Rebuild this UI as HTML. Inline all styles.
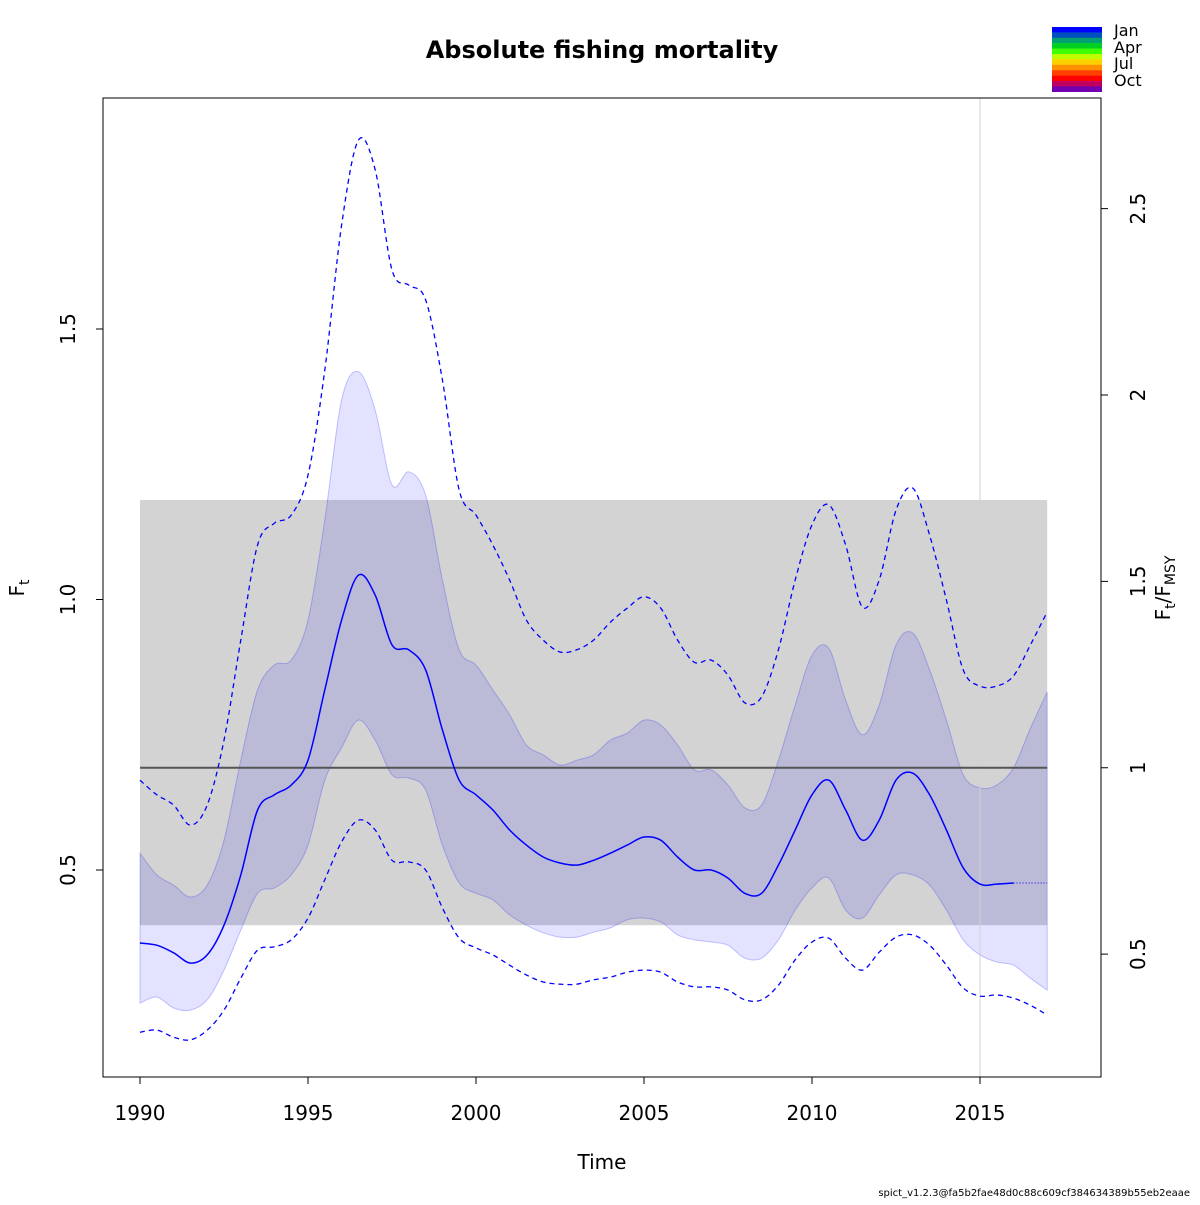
<!DOCTYPE html>
<html><head><meta charset="utf-8"><style>
body{margin:0;background:#fff;}
svg text{font-family:"DejaVu Sans","Liberation Sans",sans-serif;}
</style></head><body>
<svg id="chart" width="1200" height="1200" xmlns="http://www.w3.org/2000/svg">
<rect width="1200" height="1200" fill="#fff"/>
<g id="plot"></g>
</svg>
<script>
const years=[1990,1990.5,1991,1991.5,1992,1992.5,1993,1993.5,1994,1994.5,1995,1995.5,1996,1996.5,1997,1997.5,1998,1998.5,1999,1999.5,2000,2000.5,2001,2001.5,2002,2002.5,2003,2003.5,2004,2004.5,2005,2005.5,2006,2006.5,2007,2007.5,2008,2008.5,2009,2009.5,2010,2010.5,2011,2011.5,2012,2012.5,2013,2013.5,2014,2014.5,2015,2015.5,2016,2016.5,2017];
const fMedian=[0.365,0.361,0.347,0.328,0.343,0.398,0.491,0.611,0.639,0.657,0.703,0.833,0.962,1.045,1.008,0.916,0.907,0.870,0.759,0.666,0.639,0.611,0.574,0.546,0.524,0.513,0.509,0.518,0.531,0.546,0.561,0.555,0.524,0.500,0.500,0.485,0.457,0.457,0.509,0.574,0.639,0.666,0.611,0.555,0.592,0.666,0.679,0.639,0.574,0.504,0.474,0.474,0.476,0.476,0.476];
const fUpperOuter=[0.666,0.639,0.620,0.583,0.620,0.740,0.925,1.101,1.141,1.156,1.230,1.424,1.692,1.849,1.794,1.609,1.581,1.554,1.406,1.202,1.156,1.101,1.036,0.962,0.925,0.903,0.907,0.925,0.958,0.984,1.005,0.984,0.925,0.884,0.888,0.860,0.809,0.820,0.907,1.036,1.138,1.175,1.101,0.986,1.036,1.165,1.206,1.119,0.999,0.870,0.840,0.840,0.859,0.916,0.977];
const fLowerOuter=[0.200,0.204,0.191,0.186,0.204,0.241,0.300,0.352,0.358,0.371,0.411,0.482,0.552,0.592,0.574,0.518,0.515,0.500,0.430,0.374,0.356,0.343,0.324,0.306,0.293,0.289,0.289,0.297,0.302,0.311,0.315,0.311,0.293,0.284,0.284,0.278,0.260,0.260,0.287,0.334,0.367,0.374,0.337,0.315,0.348,0.376,0.380,0.361,0.324,0.282,0.267,0.269,0.263,0.250,0.232];
const fUpperInner=[0.531,0.491,0.472,0.450,0.472,0.555,0.703,0.833,0.879,0.888,0.962,1.147,1.369,1.421,1.350,1.212,1.236,1.193,1.036,0.907,0.879,0.833,0.787,0.731,0.713,0.694,0.703,0.713,0.740,0.753,0.777,0.768,0.731,0.685,0.685,0.657,0.615,0.620,0.703,0.805,0.897,0.910,0.814,0.750,0.805,0.916,0.938,0.870,0.777,0.676,0.652,0.657,0.689,0.762,0.829];
const fLowerInner=[0.254,0.265,0.245,0.241,0.260,0.315,0.389,0.457,0.467,0.491,0.546,0.666,0.726,0.777,0.740,0.676,0.670,0.648,0.546,0.476,0.457,0.445,0.417,0.398,0.384,0.376,0.376,0.385,0.393,0.408,0.411,0.404,0.380,0.371,0.367,0.361,0.337,0.337,0.371,0.426,0.467,0.485,0.426,0.411,0.454,0.491,0.491,0.472,0.426,0.371,0.343,0.330,0.324,0.300,0.278];
const fmsy=0.689, fmsyLow=0.398, fmsyHigh=1.184;
const xTicks=[1990,1995,2000,2005,2010,2015];
const yTicks=[0.5,1.0,1.5];
const yTickLabels=["0.5","1.0","1.5"];
const rTicks=[0.5,1,1.5,2,2.5];
const rTickLabels=["0.5","1","1.5","2","2.5"];
const monthColors=["#0000ff","#0050c0","#00a070","#00d020","#40ff00","#c0ff00","#ffd000","#ff9000","#ff4000","#ff0000","#c00060","#7000b0"];

const X=t=>140+(t-1990)*33.6;
const Y=v=>870-(v-0.5)*541;
const NS="http://www.w3.org/2000/svg";
const g=document.getElementById('plot');
function el(tag,attrs,parent){const e=document.createElementNS(NS,tag);for(const k in attrs)e.setAttribute(k,attrs[k]);(parent||g).appendChild(e);return e;}
function smooth(xs,ys){let d="M"+xs[0].toFixed(1)+","+ys[0].toFixed(1);for(let i=0;i<xs.length-1;i++){const x0=xs[Math.max(0,i-1)],y0=ys[Math.max(0,i-1)],x1=xs[i],y1=ys[i],x2=xs[i+1],y2=ys[i+1],x3=xs[Math.min(xs.length-1,i+2)],y3=ys[Math.min(xs.length-1,i+2)];d+=" C"+(x1+(x2-x0)/6).toFixed(1)+","+(y1+(y2-y0)/6).toFixed(1)+" "+(x2-(x3-x1)/6).toFixed(1)+","+(y2-(y3-y1)/6).toFixed(1)+" "+x2.toFixed(1)+","+y2.toFixed(1);}return d;}
const xs=years.map(X);

// gray Fmsy CI region
let r=el('rect',{x:X(1990),y:Y(fmsyHigh),width:X(2017)-X(1990),height:Y(fmsyLow)-Y(fmsyHigh),fill:'#d3d3d3'});


// inner band
const up=smooth(xs,fUpperInner.map(Y));
const lo=smooth(xs.slice().reverse(),fLowerInner.map(Y).reverse());
let band=el('path',{d:up+" L"+lo.slice(1)+" Z",fill:'rgba(0,0,255,0.11)',stroke:'rgba(0,0,255,0.22)','stroke-width':1});


// vertical line 2015
let vl=el('line',{x1:X(2015),x2:X(2015),y1:98,y2:1077,stroke:'#d0d0d0','stroke-width':1});


// fmsy line
let fl=el('line',{x1:X(1990),x2:X(2017),y1:Y(fmsy),y2:Y(fmsy),stroke:'#555','stroke-width':2});


// outer dashed
let uo=el('path',{d:smooth(xs,fUpperOuter.map(Y)),fill:'none',stroke:'#0000ff','stroke-width':1.3,'stroke-dasharray':'5,4'});


let lw=el('path',{d:smooth(xs,fLowerOuter.map(Y)),fill:'none',stroke:'#0000ff','stroke-width':1.3,'stroke-dasharray':'5,4'});


// median solid up to 2016, dotted after
const iEnd=years.indexOf(2016);
let md=el('path',{d:smooth(xs.slice(0,iEnd+1),fMedian.slice(0,iEnd+1).map(Y)),fill:'none',stroke:'#0000ff','stroke-width':1.5});


let mp=el('path',{d:smooth(xs.slice(iEnd),fMedian.slice(iEnd).map(Y)),fill:'none',stroke:'#0000ff','stroke-width':1,'stroke-dasharray':'1,2'});


// frame
let fr=el('rect',{x:103,y:98,width:998,height:979,fill:'none',stroke:'#000','stroke-width':1});


// x ticks
xTicks.forEach(t=>{el('line',{x1:X(t),x2:X(t),y1:1077,y2:1084,stroke:'#000'});
 const tx=el('text',{x:X(t),y:1120,'font-size':20,'text-anchor':'middle'});tx.textContent=t;
 
 });
yTicks.forEach((v,i)=>{el('line',{x1:96,x2:103,y1:Y(v),y2:Y(v),stroke:'#000'});
 const tx=el('text',{x:75,y:Y(v),'font-size':20,'text-anchor':'middle',transform:`rotate(-90 75 ${Y(v)})`});tx.textContent=yTickLabels[i];
 
 });
rTicks.forEach((v,i)=>{const yy=Y(v*fmsy);el('line',{x1:1101,x2:1108,y1:yy,y2:yy,stroke:'#000'});
 const tx=el('text',{x:1145,y:yy,'font-size':20,'text-anchor':'middle',transform:`rotate(-90 1145 ${yy})`});tx.textContent=rTickLabels[i];
 
 });
// legend
monthColors.forEach((c,i)=>{const rr=el('rect',{x:1052,y:27+i*5.4,width:50,height:5.6,fill:c});
 
 });
[["Jan",36],["Apr",53],["Jul",69],["Oct",86]].forEach(([s,y])=>{const tx=el('text',{x:1114,y:y,'font-size':16});tx.textContent=s;
 
 });
</script>
<svg style="position:absolute;left:0;top:0" width="1200" height="1200" xmlns="http://www.w3.org/2000/svg">
<text x="602" y="58" font-size="24" font-weight="bold" text-anchor="middle">Absolute fishing mortality</text>
<text x="602" y="1169" font-size="20" text-anchor="middle">Time</text>
<text transform="rotate(-90 24 588)" x="24" y="588" font-size="20" text-anchor="middle">F<tspan font-size="14" dy="5">t</tspan></text>
<text transform="rotate(-90 1170 588)" x="1170" y="588" font-size="20" text-anchor="middle">F<tspan font-size="14" dy="5">t</tspan><tspan dy="-5">/F</tspan><tspan font-size="14" dy="5">MSY</tspan></text>
<text x="1190" y="1196" font-size="10" text-anchor="end">spict_v1.2.3@fa5b2fae48d0c88c609cf384634389b55eb2eaae</text>
</svg>
<style>body{position:relative;width:1200px;height:1200px;overflow:hidden}</style>
</body></html>
